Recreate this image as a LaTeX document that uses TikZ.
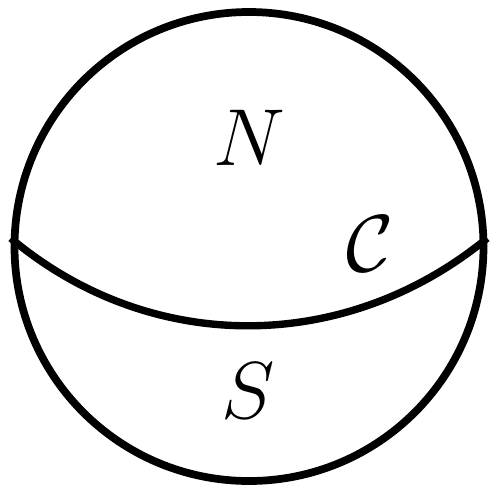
\RequirePackage{fix-cm}
\documentclass[tikz,border=0pt]{standalone}
\usepackage{amsmath,amssymb}
\usepackage{tikz}

\begin{document}
\begin{tikzpicture}[x=0.02cm, y=-0.02cm,
      lbl/.style={font=\fontsize{46}{55}\selectfont}]
    \useasboundingbox (0,0) rectangle (491,485);
    \node[circle, draw, line width=4.4pt, minimum size=469*0.02cm, inner sep=0pt] (ball) at (249,246.5) {};
    \coordinate (w) at (ball.178);
    \coordinate (e) at (ball.2);
    \draw[line width=4.2pt] (w) .. controls (150,355) and (345,355) .. (e);
    \node[lbl] (n) at (249,138) {$N$};
    \node[lbl] (c) at (370,244) {$\mathcal{C}$};
    \node[lbl] (s) at (248,391) {$S$};
  \end{tikzpicture}
\end{document}
